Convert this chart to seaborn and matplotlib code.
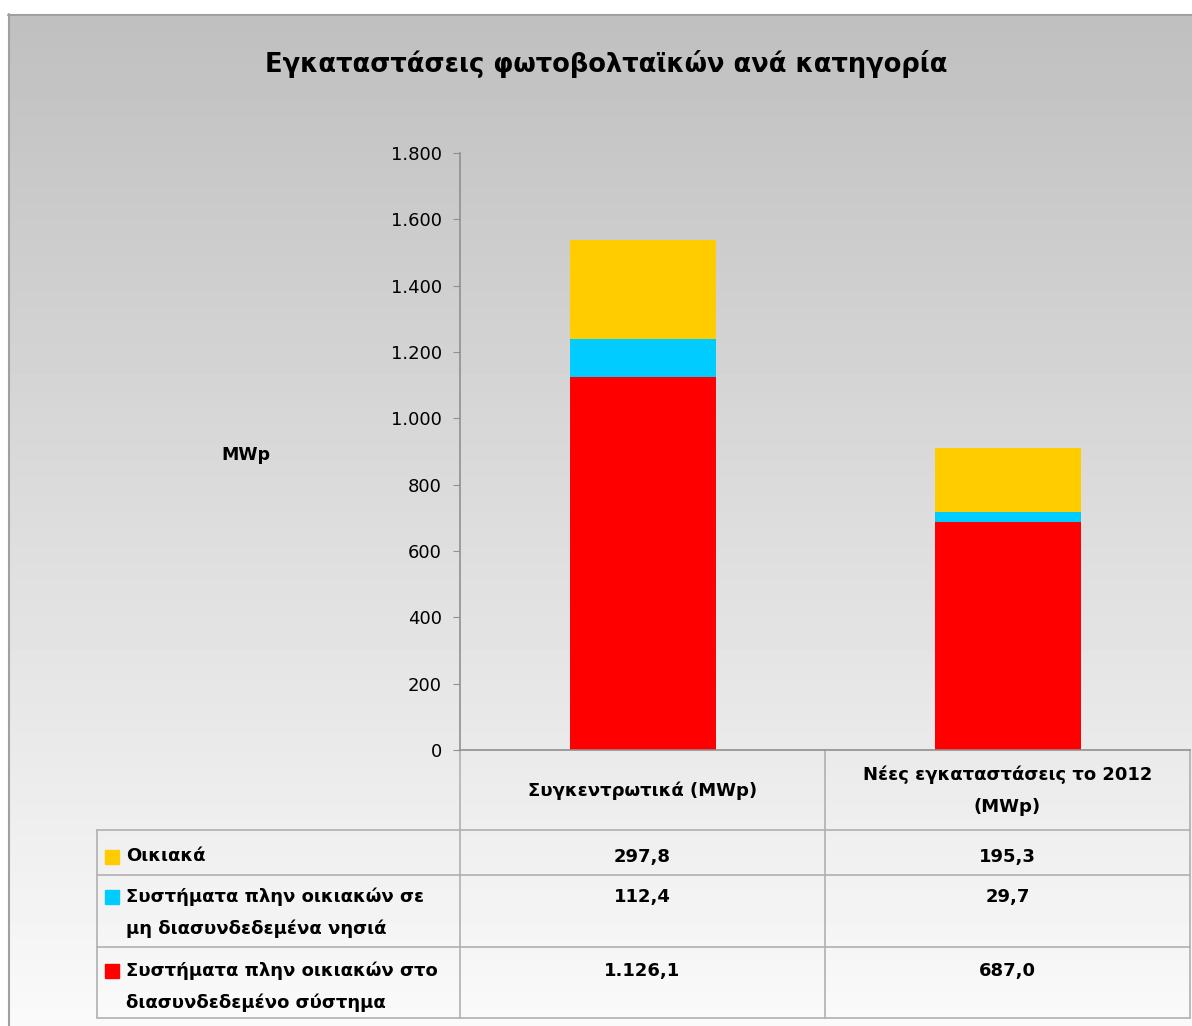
import numpy as np
import seaborn as sns
import matplotlib.pyplot as plt
from matplotlib.patches import Rectangle
from matplotlib.ticker import FuncFormatter

# Δεδομένα (MWp)
katigories = ["Συγκεντρωτικά (MWp)", "Νέες εγκαταστάσεις το 2012\n(MWp)"]
seires = ["Οικιακά",
          "Συστήματα πλην οικιακών σε\nμη διασυνδεδεμένα νησιά",
          "Συστήματα πλην οικιακών στο\nδιασυνδεδεμένο σύστημα"]
oikiaka = [297.8, 195.3]
nisia = [112.4, 29.7]
diasyndedemeno = [1126.1, 687.0]
xromata = ["#FFCC00", "#00CCFF", "#FF0000"]
y_ticks = [0, 200, 400, 600, 800, 1000, 1200, 1400, 1600, 1800]


def gr_num(v, dec=0):
    s = f"{v:,.{dec}f}"
    return s.replace(",", "#").replace(".", ",").replace("#", ".")


sns.set_style("white")
plt.rcParams["font.family"] = ["DejaVu Sans"]
plt.rcParams["text.color"] = "black"

W, H = 1192, 1026
fig = plt.figure(figsize=(W / 100, H / 100), dpi=100)
fig.patch.set_facecolor("white")

# φόντο με διαβάθμιση (σε pixel)
bg = fig.add_axes([0, 0, 1, 1])
bg.set_xlim(0, W)
bg.set_ylim(H, 0)
bg.axis("off")
grad = np.linspace(0.75, 0.98, 256).reshape(-1, 1)
bg.imshow(grad, cmap="gray", vmin=0, vmax=1, extent=[8, W, H, 14], aspect="auto")
bg.plot([8, W], [14.5, 14.5], color="#a0a0a0", lw=1.5)
bg.plot([9, 9], [14, H], color="#a0a0a0", lw=1.5)

bg.text(606, 64, "Εγκαταστάσεις φωτοβολταϊκών ανά κατηγορία", ha="center", va="center",
        fontsize=18.5, fontweight="bold", color="black")

# κύριο διάγραμμα
ax_l, ax_r, ax_t, ax_b = 460, 1190, 153, 750
ax = fig.add_axes([ax_l / W, (H - ax_b) / H, (ax_r - ax_l) / W, (ax_b - ax_t) / H])
ax.patch.set_alpha(0)

synolo = [a + b + c for a, b, c in zip(oikiaka, nisia, diasyndedemeno)]
kokkino_mple = [b + c for b, c in zip(nisia, diasyndedemeno)]
for timi, c in zip([synolo, kokkino_mple, diasyndedemeno], xromata):
    sns.barplot(x=katigories, y=timi, color=c, saturation=1, width=0.4, ax=ax,
                edgecolor="none", linewidth=0)

ax.set_xlim(-0.5, 1.5)
ax.set_ylim(0, 1800)
ax.set_yticks(y_ticks)
ax.yaxis.set_major_formatter(FuncFormatter(lambda v, p: gr_num(v)))
ax.set_xticks([])
ax.set_xlabel("")
ax.tick_params(axis="y", labelsize=13, length=5, color="#909090", direction="out", pad=8,
               left=True, labelcolor="black")
for s in ["top", "right"]:
    ax.spines[s].set_visible(False)
for s in ["left", "bottom"]:
    ax.spines[s].set_color("#909090")
    ax.spines[s].set_linewidth(1.2)
ax.set_ylabel("MWp", rotation=0, fontsize=12.5, fontweight="bold", color="black")
ax.yaxis.set_label_coords((246 - ax_l) / (ax_r - ax_l), (ax_b - 464) / (ax_b - ax_t))

# πίνακας δεδομένων
lc = "#b0b0b0"
col_w = (ax_r - ax_l) / len(katigories)
x_left = 97
row_lines = [830, 875, 947, 1018]
bg.plot([ax_l, ax_l], [ax_b, 1018], color=lc, lw=1.2)
bg.plot([ax_l + col_w, ax_l + col_w], [ax_b, 1018], color=lc, lw=1.2)
bg.plot([ax_r, ax_r], [ax_b, 1018], color=lc, lw=1.2)
bg.plot([x_left, x_left], [830, 1018], color=lc, lw=1.2)
for y in row_lines:
    bg.plot([x_left, ax_r], [y, y], color=lc, lw=1.2)

for i, kat in enumerate(katigories):
    bg.text(ax_l + (i + 0.5) * col_w, 791, kat, ha="center", va="center", fontsize=13,
            fontweight="bold", linespacing=2.0)

row_top = [857, 897, 971]
values = [oikiaka, nisia, diasyndedemeno]
for r, (name, vals, c) in enumerate(zip(seires, values, xromata)):
    y0 = row_top[r]
    bg.add_patch(Rectangle((105, y0 - 7), 14, 14, color=c))
    bg.text(126, y0 - 10, name, ha="left", va="top", fontsize=13, fontweight="bold",
            linespacing=2.0)
    for i, v in enumerate(vals):
        bg.text(ax_l + (i + 0.5) * col_w, y0, gr_num(v, 1), ha="center", va="center",
                fontsize=13, fontweight="bold")

fig.savefig("out.png", dpi=100)
